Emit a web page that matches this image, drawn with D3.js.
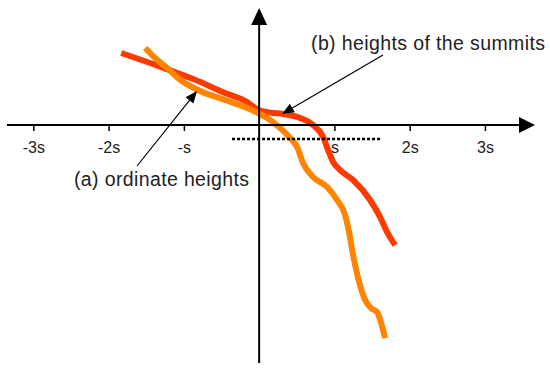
<!DOCTYPE html>
<html>
<head>
<meta charset="utf-8">
<script src="https://cdn.jsdelivr.net/npm/d3@7"></script>
<style>
  html, body { margin: 0; padding: 0; background: #fff; }
  svg { display: block; font-family: "Liberation Sans", Arial, Helvetica, sans-serif; }
</style>
</head>
<body>
<svg id="chart" width="550" height="371"></svg>
<script>
// ---- data (units of s) ----
const tickValues = [-3, -2, -1, 1, 2, 3];
const tickLabels = ["-3s", "-2s", "-s", "s", "2s", "3s"];

const summitX = [-1.833, -1.315, -0.876, -0.452, -0.159, -0.013, 0.146, 0.319, 0.544, 0.717, 0.850, 0.916, 0.983, 1.076, 1.248, 1.474, 1.607, 1.700, 1.806];
const summitY = [0.956, 0.775, 0.610, 0.425, 0.305, 0.200, 0.165, 0.146, 0.093, 0.000, -0.159, -0.332, -0.491, -0.598, -0.730, -0.996, -1.222, -1.421, -1.594];

const ordinateX = [-1.514, -1.368, -1.222, -1.049, -0.784, -0.452, -0.159, 0.013, 0.146, 0.279, 0.412, 0.505, 0.584, 0.717, 0.903, 1.036, 1.142, 1.195, 1.248, 1.315, 1.408, 1.487, 1.567, 1.673];
const ordinateY = [1.023, 0.876, 0.757, 0.598, 0.452, 0.332, 0.226, 0.146, 0.066, -0.040, -0.173, -0.292, -0.505, -0.691, -0.823, -0.996, -1.195, -1.421, -1.726, -2.032, -2.324, -2.430, -2.484, -2.829];

const dottedX = [-0.36, 1.607];
const dottedY = -0.186;

const labelA = "(a) ordinate heights";
const labelB = "(b) heights of the summits";

// ---- scales ----
const x = d3.scaleLinear().domain([-3.35, 3.665]).range([7, 535]);
const y = d3.scaleLinear().domain([1.554, -3.16]).range([8, 363]);

const svg = d3.select("#chart");

// curves
const line = d3.line().x(d => x(d[0])).y(d => y(d[1])).curve(d3.curveMonotoneX);
const summit = d3.zip(summitX, summitY);
const ordinate = d3.zip(ordinateX, ordinateY);

svg.append("path").datum(summit).attr("d", line)
  .attr("fill", "none").attr("stroke", "#ff3a00").attr("stroke-width", 6).attr("stroke-linecap", "butt");
svg.append("path").datum(ordinate).attr("d", line)
  .attr("fill", "none").attr("stroke", "#ff8400").attr("stroke-width", 6).attr("stroke-linecap", "butt");

// axes lines
const x0 = x(0), y0 = y(0);
svg.append("line").attr("x1", 7).attr("x2", 522).attr("y1", y0).attr("y2", y0)
  .attr("stroke", "#000").attr("stroke-width", 2);
svg.append("path").attr("d", `M535,${y0} L519,${y0-8} L519,${y0+8} Z`).attr("fill", "#000");
svg.append("line").attr("x1", x0).attr("x2", x0).attr("y1", 363).attr("y2", 22)
  .attr("stroke", "#000").attr("stroke-width", 2);
svg.append("path").attr("d", `M${x0},8 L${x0-8},25 L${x0+8},25 Z`).attr("fill", "#000");

// ticks via d3 axis
const axis = d3.axisBottom(x).tickValues(tickValues)
  .tickFormat((d, i) => tickLabels[i]).tickSize(6).tickPadding(10.5);
const gAx = svg.append("g").attr("transform", `translate(0,${y0})`).call(axis);
gAx.select(".domain").remove();
gAx.selectAll(".tick line").attr("stroke", "#000").attr("stroke-width", 1.5);
gAx.selectAll(".tick text").attr("fill", "#222").attr("font-size", 16)
  .attr("font-family", "'Liberation Sans', Arial, sans-serif");

// dotted line
svg.append("line").attr("x1", x(dottedX[0])).attr("x2", x(dottedX[1]))
  .attr("y1", y(dottedY)).attr("y2", y(dottedY))
  .attr("stroke", "#000").attr("stroke-width", 2.5).attr("stroke-dasharray", "3,2");

// annotation arrows
function arrow(xa, ya, xb, yb) {
  const ang = Math.atan2(yb - ya, xb - xa);
  const L = 12, W = 5;
  const bx = xb - L * Math.cos(ang), by = yb - L * Math.sin(ang);
  svg.append("line").attr("x1", xa).attr("y1", ya).attr("x2", bx).attr("y2", by)
    .attr("stroke", "#000").attr("stroke-width", 1.2);
  const px = -Math.sin(ang) * W, py = Math.cos(ang) * W;
  svg.append("path").attr("d", `M${xb},${yb} L${bx+px},${by+py} L${bx-px},${by-py} Z`).attr("fill", "#000");
}
arrow(383, 55, 282, 114);
arrow(137, 166, 197, 91);

svg.append("text").attr("x", 311).attr("y", 50).attr("font-size", 19.5)
  .attr("fill", "#222").attr("textLength", 234).attr("lengthAdjust", "spacing").text(labelB);
svg.append("text").attr("x", 74).attr("y", 186).attr("font-size", 19.5)
  .attr("fill", "#222").attr("textLength", 175).attr("lengthAdjust", "spacing").text(labelA);
</script>
</body>
</html>
